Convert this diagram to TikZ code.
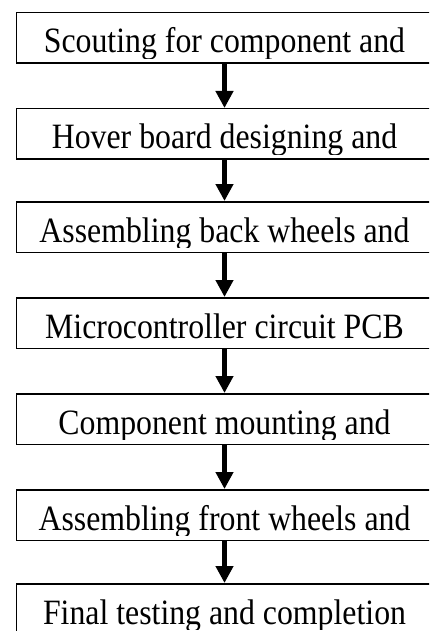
\documentclass[tikz,border=0pt]{standalone}
\usepackage{fontspec}
\setmainfont{Liberation Serif}
\usetikzlibrary{arrows.meta}
\begin{document}
\begin{tikzpicture}[x=1pt,y=-1pt,
  stepbox/.style={draw,line width=1.5pt,minimum width=416.5pt,minimum height=50.5pt,inner sep=0pt},
  steptext/.style={anchor=base,inner sep=0pt,font=\fontsize{31.8}{38}\selectfont},
  flow/.style={line width=5pt,-{Triangle[length=17pt,width=17pt]}}]
\useasboundingbox (0,0) rectangle (429,631);
\clip (0,0) rectangle (429,631);
\foreach \i/\t/\txt in {1/12/Scouting for component and,
                        2/108/Hover board designing and,
                        3/201/Assembling back wheels and,
                        4/297/Microcontroller circuit PCB,
                        5/393/Component mounting and,
                        6/489/Assembling front wheels and,
                        7/583/Final testing and completion}{
  \node[stepbox] (b\i) at (224.5,\t+26) {};
  \begin{scope}
    \clip (16,\t) rectangle (433,\t+46.5);
    \node[steptext] (t\i) at (224.5,\t+41) {\scalebox{1}[1.12]{\txt}};
  \end{scope}
}
\foreach \i/\j in {1/2,2/3,3/4,4/5,5/6,6/7}{
  \draw[flow] (b\i.south) -- (b\j.north);
}
\end{tikzpicture}
\end{document}
